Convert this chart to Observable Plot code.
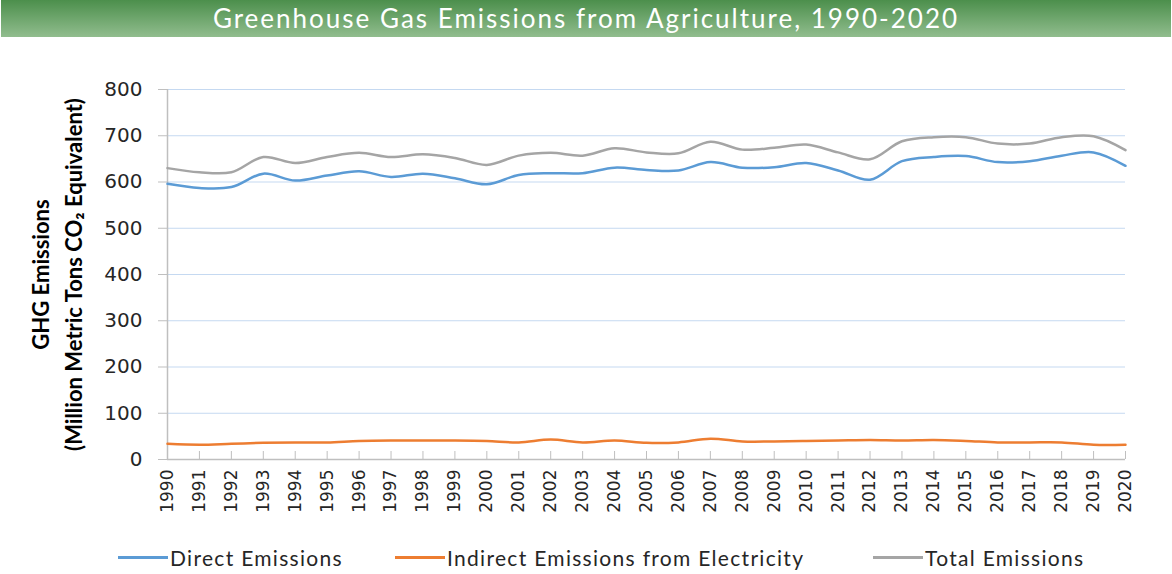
<!DOCTYPE html>
<html>
<head>
<meta charset="utf-8">
<script src="https://cdn.jsdelivr.net/npm/d3@7"></script>
<script src="https://cdn.jsdelivr.net/npm/@observablehq/plot@0.6"></script>
<style>
  html, body { margin: 0; padding: 0; background: #ffffff; width: 1172px; height: 574px; overflow: hidden; }
  #title {
    width: 1170px; height: 37px; margin-left: 1px;
    background: linear-gradient(#4c8f4c, #91bd8e);
    color: #ffffff; text-align: center;
    font-family: "Lato", sans-serif; font-size: 26px; line-height: 37px;
    letter-spacing: 2px;
  }
  #chart { position: absolute; top: 38px; left: 0; }
  #legend { position: absolute; top: 540px; left: 0; width: 1172px; height: 34px;
    font-family: "Lato", sans-serif; font-size: 21px; color: #262626; letter-spacing: 1.3px; }
  .item { position: absolute; top: 5px; display: flex; align-items: center; }
  .sw { width: 50px; height: 3px; margin-right: 2px; }
</style>
</head>
<body>
<div id="title">Greenhouse Gas Emissions from Agriculture, 1990-2020</div>
<div id="chart"></div>
<div id="legend"></div>
<script>
const years = d3.range(1990, 2021);
const direct = [596, 587, 589, 618, 603, 614, 623, 611, 618, 608, 595, 615, 619, 619, 631, 626, 625, 643, 631, 632, 641, 625, 605, 645, 654, 656, 643, 645, 657, 664, 635];
const indirect = [34, 32, 34, 36, 37, 37, 40, 41, 41, 41, 40, 37, 43, 37, 41, 36, 37, 45, 39, 39, 40, 41, 42, 41, 42, 40, 37, 37, 37, 32, 32];
const total = [630, 621, 621, 654, 641, 654, 663, 654, 660, 652, 637, 657, 663, 657, 673, 664, 662, 687, 670, 674, 681, 664, 649, 688, 697, 697, 683, 683, 697, 699, 669];
const seriesNames = ["Direct Emissions", "Indirect Emissions from Electricity", "Total Emissions"];
const seriesColors = ["#5b9bd5", "#ed7d31", "#a5a5a5"];
const yTicks = d3.range(0, 801, 100);
const yLabelLines = ["GHG Emissions", "(Million Metric Tons CO\u2082 Equivalent)"];

const rows = [];
[direct, indirect, total].forEach((vals, i) => {
  vals.forEach((v, j) => rows.push({year: years[j], value: v, series: seriesNames[i]}));
});

const chart = Plot.plot({
  width: 1172,
  height: 500,
  marginLeft: 167,
  marginRight: 47,
  marginTop: 51,
  marginBottom: 79,
  style: {fontFamily: "DejaVu Sans", fontSize: "20px", color: "#262626", background: "transparent"},
  x: {domain: [1990, 2020]},
  y: {domain: [0, 800]},
  color: {domain: seriesNames, range: seriesColors},
  marks: [
    Plot.gridY(yTicks.filter(d => d > 0), {stroke: "#c5d9f1", strokeOpacity: 1, strokeWidth: 1}),
    Plot.ruleY([0], {stroke: "#bfbfbf", strokeWidth: 1.5}),
    Plot.ruleX([1990], {stroke: "#bfbfbf", strokeWidth: 1.5}),
    Plot.axisY({ticks: yTicks, tickSize: 9, tickPadding: 16, stroke: "#bfbfbf", fontSize: 20, label: null, tickFormat: d => String(d)}),
    Plot.axisX({ticks: years.slice(1), tickSize: 8, dy: -8, stroke: "#bfbfbf", tickFormat: () => "", label: null}),
    Plot.axisX({ticks: years, tickSize: 0, tickPadding: 10, tickRotate: -90, fontSize: 17, tickFormat: d => String(d), label: null}),
    Plot.text([yLabelLines[0]], {frameAnchor: "left", textAnchor: "middle", rotate: -90, dx: -126, fontFamily: "Lato", fontWeight: "bold", fontSize: 22, fill: "#000"}),
    Plot.text([yLabelLines[1]], {frameAnchor: "left", textAnchor: "middle", rotate: -90, dx: -93, fontFamily: "Lato", fontWeight: "bold", fontSize: 22, fill: "#000"}),
    Plot.line(rows, {x: "year", y: "value", stroke: "series", z: "series", strokeWidth: 2.5, curve: "catmull-rom"})
  ]
});
document.getElementById("chart").appendChild(chart);

const legendLeft = [118, 395, 873];
const legend = document.getElementById("legend");
seriesNames.forEach((name, i) => {
  const item = document.createElement("div");
  item.className = "item";
  item.style.left = legendLeft[i] + "px";
  const sw = document.createElement("div");
  sw.className = "sw";
  sw.style.background = seriesColors[i];
  const t = document.createElement("span");
  t.textContent = name;
  item.appendChild(sw);
  item.appendChild(t);
  legend.appendChild(item);
});
</script>
</body>
</html>
